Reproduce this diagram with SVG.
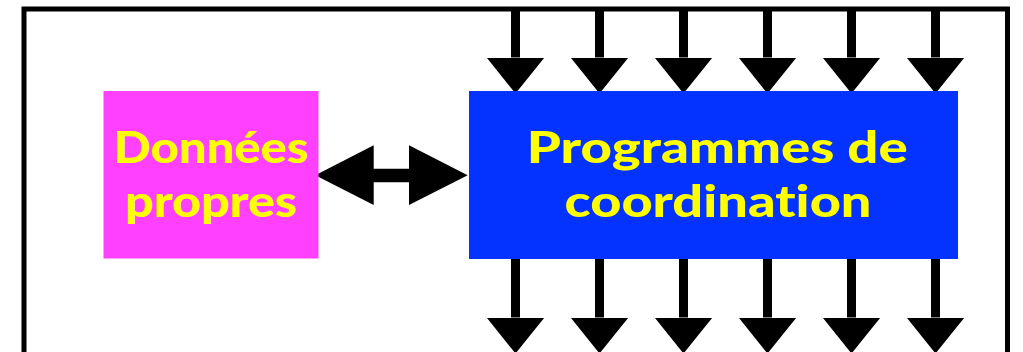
<svg xmlns="http://www.w3.org/2000/svg" width="1023" height="352" viewBox="0 0 1023 352">
  <style>
    .frame { fill: none; stroke: #000; stroke-width: 5; }
    .shaft { stroke: #000; stroke-width: 9; fill: none; }
    .lbl { font-family: Lato, "Open Sans", "Liberation Sans", sans-serif; font-weight: 900; font-size: 43px; fill: #FFFF00; text-anchor: middle; font-variant-ligatures: none; }
  </style>
  <defs>
    <marker id="head" markerUnits="userSpaceOnUse" markerWidth="36" markerHeight="58" refX="0" refY="29" orient="auto" viewBox="0 0 36 58">
      <path d="M0,0 L36,29 L0,58 Z" fill="#000"/>
    </marker>
  </defs>
  <rect width="1023" height="352" fill="#fff"/>
  <rect id="frame" class="frame" x="24" y="9" width="983.5" height="420"/>
  <g id="connectors">
    <line class="shaft" x1="515.5" y1="9" x2="515.5" y2="57.5" marker-end="url(#head)"/>
    <line class="shaft" x1="599.5" y1="9" x2="599.5" y2="57.5" marker-end="url(#head)"/>
    <line class="shaft" x1="683.5" y1="9" x2="683.5" y2="57.5" marker-end="url(#head)"/>
    <line class="shaft" x1="767.5" y1="9" x2="767.5" y2="57.5" marker-end="url(#head)"/>
    <line class="shaft" x1="851.5" y1="9" x2="851.5" y2="57.5" marker-end="url(#head)"/>
    <line class="shaft" x1="935.5" y1="9" x2="935.5" y2="57.5" marker-end="url(#head)"/>
    <line class="shaft" x1="515.5" y1="258" x2="515.5" y2="317.5" marker-end="url(#head)"/>
    <line class="shaft" x1="599.5" y1="258" x2="599.5" y2="317.5" marker-end="url(#head)"/>
    <line class="shaft" x1="683.5" y1="258" x2="683.5" y2="317.5" marker-end="url(#head)"/>
    <line class="shaft" x1="767.5" y1="258" x2="767.5" y2="317.5" marker-end="url(#head)"/>
    <line class="shaft" x1="851.5" y1="258" x2="851.5" y2="317.5" marker-end="url(#head)"/>
    <line class="shaft" x1="935.5" y1="258" x2="935.5" y2="317.5" marker-end="url(#head)"/>
    <polygon points="315.3,175.3 373.7,145.3 373.7,168.7 409,168.7 409,145.3 467.7,175.3 409,205 409,182.3 373.7,182.3 373.7,205" fill="#000"/>
  </g>
  <g id="donnees">
    <rect x="103.5" y="91" width="215" height="167.5" fill="#FF40FF"/>
    <text class="lbl" x="211" y="163.3" textLength="195" lengthAdjust="spacingAndGlyphs">Données</text>
    <text class="lbl" x="211" y="216.7" textLength="172" lengthAdjust="spacingAndGlyphs">propres</text>
  </g>
  <g id="programmes">
    <rect x="469" y="91" width="489" height="168" fill="#0433FF"/>
    <text class="lbl" x="717.2" y="162.7" textLength="381" lengthAdjust="spacingAndGlyphs">Programmes de</text>
    <text class="lbl" x="718" y="217.3" textLength="307" lengthAdjust="spacingAndGlyphs">coordination</text>
  </g>
</svg>
